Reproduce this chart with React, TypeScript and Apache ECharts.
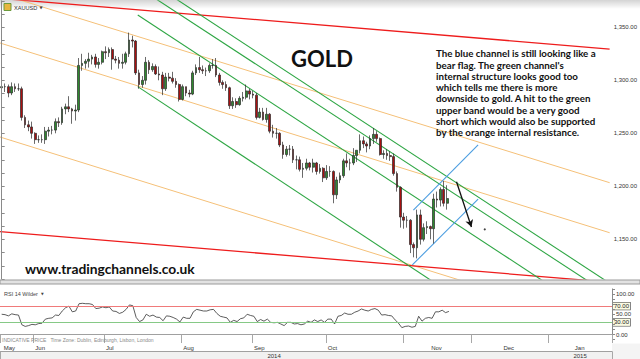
import React, { useEffect, useRef } from "react";
import * as echarts from "echarts";

// ---- calendar / tick labels ----
const monthNames = ["May", "Jun", "Jul", "Aug", "Sep", "Oct", "Nov", "Dec", "Jan"];
const monthTradingDays = [10, 21, 23, 21, 22, 23, 20, 23, 19];
const yearLabels = ["2014", "2015"];
const yearStartMonth = [0, 8];

// ---- XAUUSD daily candles, 19 May 2014 .. 20 Nov 2014 ----
const priceOpen = [
  1293, 1294, 1294, 1288, 1294, 1292, 1292, 1265, 1258, 1256,
  1250, 1244, 1244, 1244, 1252, 1253, 1253, 1261, 1260, 1273,
  1275, 1273, 1271, 1272, 1314, 1316, 1318, 1320, 1322, 1315,
  1317, 1327, 1326, 1329, 1320, 1319, 1316, 1317, 1325, 1338,
  1337, 1307, 1296, 1300, 1317, 1310, 1313, 1306, 1305, 1292,
  1303, 1302, 1299, 1296, 1282, 1294, 1288, 1287, 1307, 1312,
  1310, 1309, 1309, 1314, 1314, 1305, 1298, 1296, 1293, 1276,
  1280, 1277, 1283, 1284, 1290, 1287, 1286, 1265, 1270, 1263,
  1268, 1252, 1250, 1250, 1239, 1230, 1235, 1235, 1225, 1225,
  1216, 1217, 1222, 1218, 1222, 1214, 1217, 1208, 1214, 1214,
  1192, 1206, 1210, 1224, 1222, 1222, 1229, 1234, 1243, 1240,
  1238, 1245, 1249, 1245, 1230, 1231, 1229, 1228, 1212, 1199,
  1171, 1168, 1168, 1145, 1142, 1173, 1150, 1161, 1162, 1160,
  1188, 1187, 1197, 1184,
];
const priceHigh = [
  1298, 1297, 1296, 1298, 1297, 1297, 1294, 1267, 1262, 1261,
  1251, 1248, 1249, 1256, 1256, 1257, 1264, 1265, 1275, 1278,
  1285, 1274, 1277, 1321, 1325, 1320, 1326, 1324, 1325, 1321,
  1328, 1332, 1331, 1331, 1323, 1322, 1325, 1327, 1345, 1342,
  1338, 1310, 1304, 1322, 1319, 1316, 1315, 1313, 1308, 1307,
  1307, 1308, 1302, 1297, 1296, 1294, 1291, 1309, 1315, 1322,
  1314, 1312, 1316, 1320, 1321, 1307, 1300, 1299, 1294, 1284,
  1283, 1285, 1289, 1296, 1292, 1290, 1288, 1274, 1274, 1274,
  1269, 1258, 1255, 1251, 1242, 1238, 1239, 1238, 1229, 1228,
  1222, 1226, 1223, 1226, 1223, 1221, 1218, 1220, 1219, 1215,
  1209, 1213, 1226, 1231, 1226, 1236, 1234, 1249, 1247, 1242,
  1248, 1255, 1252, 1246, 1234, 1235, 1233, 1231, 1214, 1200,
  1175, 1172, 1169, 1147, 1178, 1178, 1165, 1167, 1163, 1193,
  1195, 1199, 1205, 1201,
];
const priceLow = [
  1287, 1289, 1284, 1286, 1289, 1290, 1262, 1255, 1252, 1245,
  1240, 1241, 1241, 1240, 1247, 1249, 1250, 1256, 1258, 1268,
  1270, 1259, 1262, 1270, 1309, 1311, 1312, 1315, 1312, 1311,
  1315, 1320, 1322, 1310, 1316, 1311, 1311, 1315, 1322, 1331,
  1305, 1292, 1293, 1296, 1306, 1308, 1305, 1300, 1286, 1290,
  1299, 1297, 1293, 1280, 1281, 1285, 1284, 1286, 1305, 1307,
  1306, 1304, 1307, 1311, 1303, 1295, 1292, 1290, 1273, 1273,
  1274, 1276, 1280, 1282, 1282, 1283, 1263, 1264, 1262, 1260,
  1250, 1246, 1245, 1237, 1226, 1228, 1229, 1222, 1216, 1214,
  1208, 1215, 1215, 1213, 1211, 1212, 1204, 1206, 1209, 1184,
  1188, 1203, 1208, 1218, 1215, 1220, 1223, 1231, 1236, 1232,
  1235, 1240, 1242, 1229, 1226, 1225, 1224, 1210, 1195, 1161,
  1160, 1161, 1137, 1133, 1132, 1145, 1148, 1155, 1150, 1146,
  1180, 1181, 1181, 1178,
];
const priceClose = [
  1294, 1294, 1288, 1294, 1292, 1292, 1265, 1258, 1256, 1250,
  1244, 1244, 1244, 1252, 1253, 1253, 1261, 1260, 1273, 1275,
  1273, 1271, 1272, 1314, 1316, 1318, 1320, 1322, 1315, 1317,
  1327, 1326, 1329, 1320, 1319, 1316, 1317, 1325, 1338, 1337,
  1307, 1296, 1300, 1317, 1310, 1313, 1306, 1305, 1292, 1303,
  1302, 1299, 1296, 1282, 1294, 1288, 1287, 1307, 1312, 1310,
  1309, 1309, 1314, 1314, 1305, 1298, 1296, 1293, 1276, 1280,
  1277, 1283, 1284, 1290, 1287, 1286, 1265, 1270, 1263, 1268,
  1252, 1250, 1250, 1239, 1230, 1235, 1235, 1225, 1225, 1216,
  1217, 1222, 1218, 1222, 1214, 1217, 1208, 1214, 1214, 1192,
  1206, 1210, 1224, 1222, 1222, 1229, 1234, 1243, 1240, 1238,
  1245, 1249, 1245, 1230, 1231, 1229, 1228, 1212, 1199, 1171,
  1168, 1168, 1145, 1142, 1173, 1150, 1161, 1162, 1160, 1188,
  1187, 1197, 1184, 1188.46,
];
const lastPrice = 1188.46;

// ---- RSI 14 (Wilder) ----
const rsiValues = [
  50, 49, 46, 51, 49, 48, 24, 20, 22, 25,
  24, 27, 28, 38, 40, 41, 48, 47, 58, 66,
  70, 56, 58, 76, 77, 76, 76, 74, 64, 65,
  68, 66, 68, 58, 57, 52, 55, 62, 73, 71,
  42, 32, 36, 50, 45, 48, 43, 42, 34, 46,
  45, 42, 38, 31, 43, 40, 40, 56, 62, 60,
  58, 58, 61, 62, 52, 45, 43, 41, 30, 35,
  32, 39, 41, 50, 47, 45, 32, 37, 33, 38,
  30, 29, 30, 26, 22, 30, 30, 26, 27, 24,
  26, 33, 30, 36, 32, 36, 30, 38, 38, 26,
  45, 47, 53, 50, 50, 55, 58, 63, 60, 58,
  62, 64, 60, 48, 49, 47, 46, 36, 28, 17,
  20, 21, 18, 20, 45, 33, 40, 42, 40, 56,
  56, 60, 54, 57,
];
const rsiLevels = [70, 30];

// ---- drawn trend lines: [trading-day index, price] ----
const redLines = [
  [[-0.5, 1377.3], [181.5, 1329.5]],
  [[-0.5, 1157.2], [181.5, 1109.5]],
];
const orangeLines = [
  [[-0.5, 1381.6], [181.5, 1203.4]],
  [[-0.5, 1335.2], [181.5, 1156.2]],
  [[-0.5, 1246.5], [181.5, 1067.5]],
];
const greenLines = [
  [[40.62, 1361.6], [162.54, 1108.8]],
  [[40.62, 1388.0], [175.92, 1108.8]],
  [[40.62, 1400.4], [181.39, 1108.8]],
  [[40.62, 1294.0], [129.36, 1108.8]],
];
const blueLines = [
  [[122.9, 1177.6], [142.23, 1239.0]],
  [[122.6, 1125.8], [142.23, 1188.0]],
];
const arrowLine = [[135.78, 1204.3], [140.24, 1161.6]];
const dotPoint = [144.22, 1159.4];

const noteLines = [
  "The blue channel is still looking like a",
  "bear flag. The green channel's",
  "internal structure looks good too",
  "which tells me there is more",
  "downside to gold. A hit to the green",
  "upper band would be a very good",
  "short which would also be supported",
  "by the orange internal resistance.",
];

function fmt2(v: number): string {
  const s = v.toFixed(2).split(".");
  s[0] = s[0].replace(/\B(?=(\d{3})+$)/g, ",");
  return s.join(".");
}

export default function App() {
  const ref = useRef<HTMLDivElement>(null);
  useEffect(() => {
    const chart = echarts.init(ref.current!, null, { renderer: "svg" });

    const categories: string[] = [];
    const monthStart: number[] = [];
    monthNames.forEach((m, mi) => {
      monthStart.push(categories.length);
      for (let d = 0; d < monthTradingDays[mi]; d++) categories.push(m + "|" + mi + "|" + d);
    });
    const N = categories.length;
    const yearStartIdx = yearStartMonth.map((m) => monthStart[m]);
    const yearMid = yearStartIdx.map((s, k) => {
      const e = k + 1 < yearStartIdx.length ? yearStartIdx[k + 1] - 1 : N - 1;
      return Math.floor((s + e) / 2);
    });

    const candleData = priceOpen.map((o, i) => [o, priceClose[i], priceLow[i], priceHigh[i]]);

    const mkLines = (set: number[][][], color: string, width: number) =>
      set.map((pts) => ({
        type: "line",
        xAxisIndex: 1,
        yAxisIndex: 0,
        data: pts,
        symbol: "none",
        silent: true,
        clip: true,
        z: 3,
        lineStyle: { color, width },
      }));

    const axisFont = "Liberation Sans";
    const ff = "Lato";

    const option: any = {
      animation: false,
      backgroundColor: "#ffffff",
      textStyle: { fontFamily: axisFont },
      grid: [
        { left: 0, top: 0.8, width: 612, height: 278.25 },
        { left: 0, top: 288.9, width: 612, height: 51.25 },
      ],
      xAxis: [
        { gridIndex: 0, type: "category", data: categories, boundaryGap: true, show: false },
        { gridIndex: 0, type: "value", min: -0.5, max: N - 0.5, show: false },
        {
          gridIndex: 1,
          type: "category",
          data: categories,
          boundaryGap: true,
          position: "bottom",
          offset: 3.4,
          z: 6,
          axisLine: { show: true, lineStyle: { color: "#a0a0a0", width: 1 } },
          axisTick: {
            show: true,
            length: 8.5,
            interval: (i: number) => monthStart.indexOf(i) >= 0,
            lineStyle: { color: "#a8a8a8" },
          },
          axisLabel: {
            show: true,
            showMinLabel: true,
            hideOverlap: false,
            interval: (i: number) => monthStart.indexOf(i) >= 0,
            align: "left",
            margin: 1.5,
            fontSize: 6,
            color: "#333",
            formatter: (v: string) => {
              const parts = v.split("|");
              const mi = Number(parts[1]);
              if (mi >= 6) return "{f" + mi + "|" + parts[0] + "}";
              if (mi === 0) return "{f0|" + parts[0] + "}";
              return parts[0];
            },
            rich: {
              f0: { fontSize: 6, color: "#333", padding: [0, 0, 0, 2] },
              f6: { fontSize: 6, color: "#333", padding: [0, 0, 0, 26] },
              f7: { fontSize: 6, color: "#333", padding: [0, 0, 0, 31] },
              f8: { fontSize: 6, color: "#333", padding: [0, 0, 0, 25] },
            },
          },
          splitLine: { show: false },
        },
        {
          gridIndex: 1,
          type: "category",
          data: categories,
          boundaryGap: true,
          position: "bottom",
          offset: 11.9,
          z: 6,
          axisLine: { show: true, lineStyle: { color: "#a0a0a0", width: 1 } },
          axisTick: {
            show: true,
            length: 8,
            interval: (i: number) => yearStartIdx.indexOf(i) > 0,
            lineStyle: { color: "#a8a8a8" },
          },
          axisLabel: {
            show: true,
            interval: (i: number) => yearMid.indexOf(i) >= 0,
            margin: 1.5,
            fontSize: 6,
            color: "#333",
            formatter: (_v: string, i: number) => {
              const k = yearMid.indexOf(i);
              return k >= 0 ? yearLabels[k] : "";
            },
          },
          splitLine: { show: false },
        },
      ],
      yAxis: [
        {
          gridIndex: 0,
          type: "value",
          position: "right",
          min: 1112.5,
          max: 1375,
          interval: 12.5,
          z: 6,
          axisLine: { show: true, lineStyle: { color: "#8a8a8a" } },
          axisTick: { show: true, length: 3, lineStyle: { color: "#8a8a8a" } },
          axisLabel: {
            fontSize: 6,
            color: "#333",
            margin: 4,
            formatter: (v: number) => (Math.abs(v % 50) < 1e-6 ? fmt2(v) : ""),
          },
          splitLine: { show: false },
        },
        {
          gridIndex: 1,
          type: "value",
          position: "right",
          min: -12.5,
          max: 112.5,
          interval: 12.5,
          z: 6,
          axisLine: { show: true, lineStyle: { color: "#8a8a8a" } },
          axisTick: { show: true, length: 3, lineStyle: { color: "#8a8a8a" } },
          axisLabel: {
            fontSize: 6,
            color: "#333",
            margin: 4,
            formatter: (v: number) => (Math.abs(v % 50) < 1e-6 ? fmt2(v) : ""),
          },
          splitLine: { show: false },
        },
      ],
      series: [
        ...mkLines(orangeLines, "#f5c078", 1),
        ...mkLines(redLines, "#ee1c1c", 1.3),
        ...mkLines(greenLines, "#2ea644", 1.1),
        ...mkLines(blueLines, "#4b9de0", 1.1),
        {
          type: "candlestick",
          xAxisIndex: 0,
          yAxisIndex: 0,
          data: candleData,
          barWidth: 2.2,
          z: 4,
          silent: true,
          itemStyle: {
            color: "#2f8a2f",
            color0: "#a81010",
            borderColor: "#2a2a2a",
            borderColor0: "#2a2a2a",
            borderWidth: 0.7,
          },
          markLine: {
            silent: true,
            symbol: "none",
            data: [{ yAxis: lastPrice }],
            lineStyle: { opacity: 0 },
            label: {
              position: "end",
              distance: 1,
              formatter: () => fmt2(lastPrice),
              fontSize: 6,
              color: "#222",
              backgroundColor: "#fbfbe2",
              borderColor: "#555",
              borderWidth: 0.7,
              padding: [1, 1, 0, 1],
            },
          },
        },
        {
          type: "scatter",
          xAxisIndex: 1,
          yAxisIndex: 0,
          data: [dotPoint],
          symbolSize: 2.2,
          z: 5,
          silent: true,
          itemStyle: { color: "#111" },
          markLine: {
            silent: true,
            symbol: ["none", "arrow"],
            symbolSize: [6, 7],
            label: { show: false },
            lineStyle: { color: "#111", width: 1.3, type: "solid" },
            data: [[{ coord: arrowLine[0] }, { coord: arrowLine[1] }]],
          },
        },
        {
          type: "line",
          xAxisIndex: 2,
          yAxisIndex: 1,
          data: rsiValues,
          symbol: "none",
          silent: true,
          z: 4,
          lineStyle: { color: "#333", width: 0.8 },
          markLine: {
            silent: true,
            symbol: "none",
            data: rsiLevels.map((lv, k) => ({
              yAxis: lv,
              lineStyle: { color: k === 0 ? "#f07a7a" : "#86c986", width: 1, type: "solid" },
            })),
            label: {
              position: "end",
              distance: 1,
              formatter: (p: any) => fmt2(p.value),
              fontSize: 6,
              color: "#222",
              backgroundColor: "#fbfbe2",
              borderColor: "#555",
              borderWidth: 0.7,
              padding: [1, 1, 0, 1],
            },
          },
        },
      ],
      graphic: [
        {
          type: "rect",
          z: 0,
          silent: true,
          shape: { x: 0, y: 0, width: 640, height: 9 },
          style: {
            fill: new echarts.graphic.LinearGradient(0, 0, 0, 1, [
              { offset: 0, color: "rgba(0,0,0,0.17)" },
              { offset: 1, color: "rgba(0,0,0,0)" },
            ]),
          },
        },
        {
          type: "rect",
          z: 20,
          silent: true,
          shape: { x: 0, y: 280, width: 640, height: 4 },
          style: { fill: "#e2e2e2", stroke: "#9a9a9a", lineWidth: 1 },
        },
        {
          type: "rect",
          z: 0,
          silent: true,
          shape: { x: 0, y: 352, width: 612, height: 7 },
          style: { fill: "#f1f1f1" },
        },
        {
          type: "rect",
          z: 0,
          silent: true,
          shape: { x: 612, y: 343.5, width: 28, height: 16 },
          style: { fill: "#f4f4f4" },
        },
        {
          type: "rect",
          z: 20,
          silent: true,
          shape: { x: 4, y: 3.5, width: 7, height: 7 },
          style: { fill: "#e7b640", stroke: "#6c9a3c", lineWidth: 1 },
        },
        {
          type: "text",
          z: 20,
          silent: true,
          x: 14,
          y: 7.5,
          style: { text: "XAUUSD", font: "5.6px 'Liberation Sans'", fill: "#333", verticalAlign: "middle" },
        },
        {
          type: "text",
          z: 20,
          silent: true,
          x: 39.5,
          y: 7.5,
          style: { text: "▼", font: "4px 'DejaVu Sans'", fill: "#444", verticalAlign: "middle" },
        },
        {
          type: "text",
          z: 20,
          silent: true,
          x: 322,
          y: 58.5,
          style: {
            text: "GOLD",
            font: "bold 22px " + ff,
            fill: "#111",
            align: "center",
            verticalAlign: "middle",
          },
        },
        {
          type: "text",
          z: 20,
          silent: true,
          x: 436,
          y: 47.6,
          style: {
            text: noteLines.join("\n"),
            font: "bold 9.75px " + ff,
            lineHeight: 11.3,
            fill: "#111",
            verticalAlign: "top",
          },
        },
        {
          type: "text",
          z: 20,
          silent: true,
          x: 25,
          y: 268.5,
          style: {
            text: "www.tradingchannels.co.uk",
            font: "bold 13.8px " + ff,
            fill: "#111",
            verticalAlign: "middle",
          },
        },
        {
          type: "text",
          z: 20,
          silent: true,
          x: 4,
          y: 293.5,
          style: { text: "RSI 14 Wilder", font: "5.5px 'Liberation Sans'", fill: "#444", verticalAlign: "middle" },
        },
        {
          type: "text",
          z: 20,
          silent: true,
          x: 41,
          y: 293.5,
          style: { text: "▼", font: "3.5px 'DejaVu Sans'", fill: "#444", verticalAlign: "middle" },
        },
        {
          type: "text",
          z: 20,
          silent: true,
          x: 2,
          y: 340.3,
          style: {
            text: "INDICATIVE PRICE   Time Zone: Dublin, Edinburgh, Lisbon, London",
            font: "5px 'Liberation Sans'",
            fill: "#8a8a8a",
            verticalAlign: "middle",
          },
        },
      ],
    };

    chart.setOption(option);
    return () => chart.dispose();
  }, []);

  return (
    <div
      ref={ref}
      style={{ position: "fixed", left: 0, top: 0, width: 640, height: 359, background: "#fff" }}
    />
  );
}
